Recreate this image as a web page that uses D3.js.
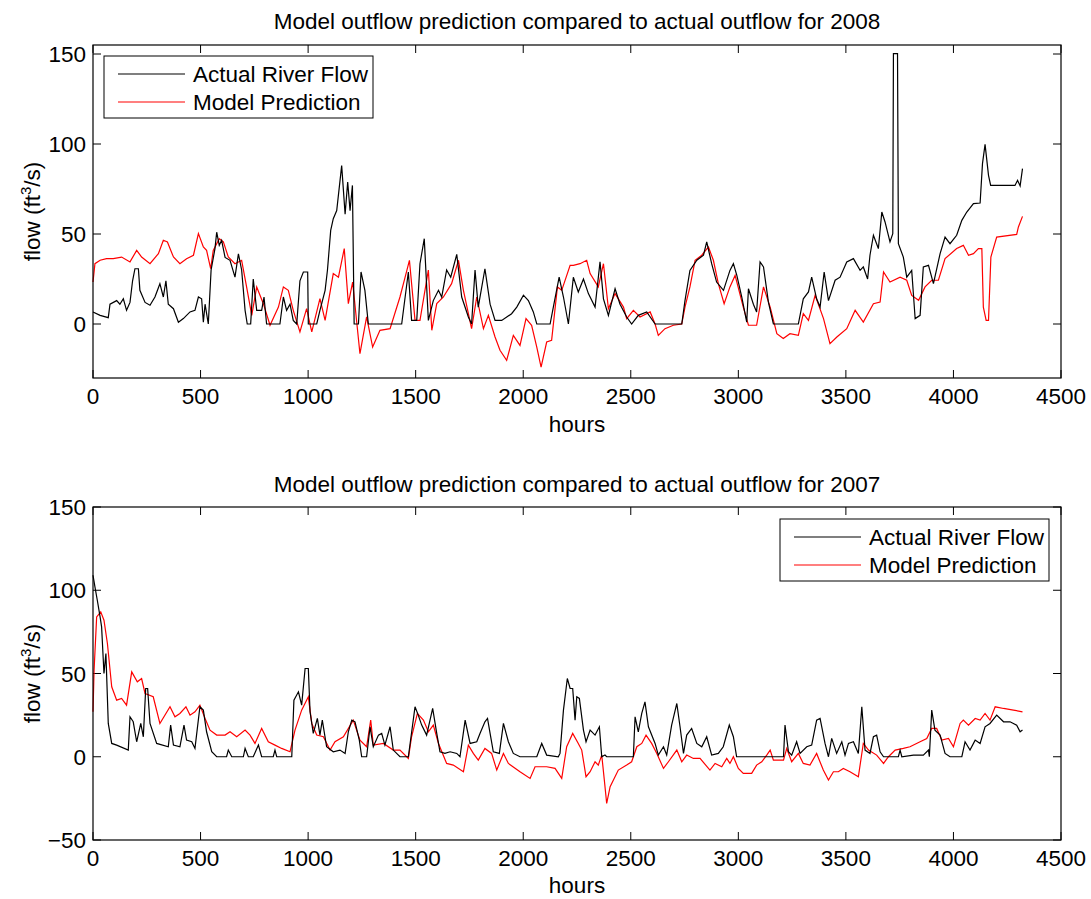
<!DOCTYPE html>
<html><head><meta charset="utf-8">
<script src="https://cdn.jsdelivr.net/npm/d3@7"></script>
<style>body{margin:0;background:#fff}text{font-family:"Liberation Sans",Arial,sans-serif}</style>
</head><body><svg id="c" width="1091" height="899"></svg>
<script>
const xTicks=[0,500,1000,1500,2000,2500,3000,3500,4000,4500];
const yTicksTop=[0,50,100,150];
const yTicksBot=[-50,0,50,100,150];
const titles=["Model outflow prediction compared to actual outflow for 2008","Model outflow prediction compared to actual outflow for 2007"];
const seriesNames=["Actual River Flow","Model Prediction"];

const actual2008Hours=[0,33,71,79,110,125,141,156,172,184,195,211,218,242,265,288,311,327,339,350,374,397,420,451,474,490,505,513,521,536,549,567,575,587,598,614,637,660,676,691,707,717,733,745,761,784,795,807,869,885,900,916,931,947,962,978,998,1001,1040,1055,1079,1090,1105,1117,1133,1156,1172,1184,1195,1206,1214,1234,1246,1264,1280,1435,1466,1481,1505,1520,1540,1559,1582,1606,1621,1644,1663,1691,1714,1745,1760,1776,1791,1822,1846,1869,1900,1946,1970,2001,2024,2047,2063,2125,2140,2167,2187,2210,2225,2233,2256,2280,2303,2334,2357,2373,2396,2427,2450,2481,2504,2535,2574,2613,2737,2752,2775,2807,2838,2853,2876,2899,2931,2961,2977,2993,3016,3039,3047,3070,3085,3101,3117,3140,3163,3279,3302,3326,3341,3364,3380,3399,3419,3450,3473,3504,3535,3566,3581,3601,3612,3628,3651,3667,3682,3705,3718,3721,3740,3744,3767,3783,3806,3822,3845,3860,3884,3907,3938,3961,3984,4015,4039,4062,4093,4124,4135,4147,4163,4173,4286,4298,4310,4321];
const actual2008Flow=[6.7,4.8,3.5,11,13,11,14,7.6,12,24,30.7,30.7,18.7,12,10.4,15,22.4,15,24,11,8.5,1,3,6.7,7.6,15,14,1,11,0,30,41.9,51,43.7,46.5,37,35.4,26,39,30,7.6,0,0,25,7.6,7.6,15,0,0,15,7.6,11,2,0,24,28.9,28.9,0,0,7.6,18.7,30,52,58.5,63,88,61,78.9,63,77,0,0,28.9,18.7,0,0,28.9,2,2,33.5,47.4,2,13,18.7,15,30,26,38.7,15,3.9,0,30,9.4,30.7,11,2,2,5.7,9.4,16,13,6.7,0,0,9.4,26,15,0,16.9,26,17.8,25,16.9,9.4,34.5,14,4.8,19.6,11,3.9,0,4.8,6.7,0,0,13,29.8,35.4,38.2,45.6,33.5,23.3,18.7,29.8,33.5,27,15,1,19.6,11,6.7,34.5,31.7,12,0,0,14,17.8,26,14,9.4,28.9,13,24.3,26,34.5,36.3,29.8,31.7,25,38.2,49.3,41.9,62.2,56.7,45.6,50.2,150.2,150.2,44.6,37.2,26,29.8,3,4.8,31.7,32.6,22.4,39.1,48.3,44.6,49.3,57.6,62.2,66.9,67.2,89.1,99.8,82.6,77,77,79.8,76.7,86.3];

const model2008Hours=[0,9,33,63,94,133,172,203,226,265,304,327,346,374,404,435,467,490,513,528,547,559,587,606,629,660,691,714,738,761,792,823,862,885,908,931,962,993,1017,1055,1079,1117,1141,1168,1187,1207,1241,1272,1300,1334,1381,1427,1451,1471,1497,1520,1559,1575,1598,1629,1667,1699,1722,1760,1784,1815,1838,1869,1892,1923,1954,1985,2013,2039,2063,2083,2109,2132,2159,2179,2218,2233,2264,2295,2311,2349,2373,2396,2427,2466,2481,2512,2543,2590,2613,2628,2659,2698,2737,2752,2775,2799,2830,2861,2884,2907,2934,2961,2985,3023,3047,3085,3117,3148,3179,3209,3240,3279,3302,3326,3357,3396,3426,3458,3504,3543,3581,3628,3659,3675,3705,3752,3783,3806,3838,3868,3899,3930,3961,4015,4046,4070,4093,4116,4132,4139,4152,4163,4174,4201,4294,4302,4321];
const model2008Flow=[23.3,33.5,35.4,36.3,36.3,37.2,34.5,40.9,37.2,33.5,39.1,46.5,45.6,37.2,33.5,36.3,38.2,50.2,42.8,40.9,30.7,40.9,47.4,45.6,37.2,33.5,35.4,20.6,4.8,20.6,11.3,-0.7,9.4,20.6,18.7,7.6,-4.4,8.5,-4.4,14.1,2,28,26,41.9,11.3,23.3,-16.5,3.9,-12.8,-3.5,-2.6,15,26,35.4,2,2,30,-3.5,11.3,15,22.4,35.4,18.7,-2.6,15,-2.6,4.8,-7.2,-14.6,-20.2,-6.3,-11.9,3,-0.7,-12.8,-23.9,-10,-9.1,20.6,18.7,32.6,32.6,33.5,35.4,28,20.6,33.5,8.5,16.9,9.4,3,7.6,3.9,6.7,0,-6.3,-2.6,-0.7,0,9.4,20.6,35.4,38.2,42.8,35.4,22.4,11.3,20.6,27,9.4,-0.7,-0.7,20.6,9.4,-5.4,-8.1,-5.4,-6.3,5.7,2,15.9,3,-10.9,-7.2,-2.6,7.6,1.1,11.3,12.2,28.9,23.3,26,24.3,15.9,13.2,20.6,24.3,24.3,36.3,41.9,43.7,38.2,39.1,41.9,41.9,9.4,2,2,37.2,48.3,49.8,53.9,59.8];

const actual2007Hours=[0,9,20,33,40,51,60,71,87,110,164,172,187,203,222,234,245,254,265,296,350,361,374,404,423,435,459,474,497,513,528,552,575,621,629,645,699,707,722,745,769,784,838,846,854,924,934,955,970,986,1001,1009,1024,1043,1055,1066,1086,1117,1148,1172,1187,1203,1218,1238,1249,1272,1288,1303,1327,1342,1357,1381,1396,1427,1466,1497,1512,1528,1551,1579,1598,1613,1636,1660,1691,1706,1730,1753,1784,1799,1822,1834,1846,1861,1889,1908,1931,1954,1985,2063,2086,2109,2163,2171,2187,2205,2218,2230,2241,2249,2261,2280,2292,2311,2334,2354,2365,2380,2388,2512,2520,2535,2551,2566,2582,2613,2628,2652,2667,2690,2714,2729,2745,2760,2783,2807,2830,2853,2876,2907,2930,2958,2977,2992,3210,3217,3233,3248,3271,3287,3318,3341,3364,3380,3403,3419,3434,3457,3481,3496,3512,3535,3558,3574,3589,3612,3628,3643,3659,3675,3744,3752,3760,3814,3860,3884,3888,3899,3914,3938,3961,3984,4039,4054,4077,4101,4124,4147,4170,4201,4233,4263,4294,4310,4321];
const actual2007Flow=[109,102,94,84,78,50,62,20,8,7,4,24,21,9,20,12,41,41,20,8,6,19,7,6,19,10,9,5,30,28,15,3,0,0,4,0,0,5,0,0,7,0,0,4,0,0,34,39,31,53,53,27,14,23,13,22,6,3,4,2,15,22,21,10,0,0,18,6,13,14,7,18,4,0,0,30,25,19,13,29,14,3,2,3,2,0,22,8,9,14,21,23,14,3,2,20,9,2,0,0,8,1,0,2,28,47,41,41,22,36,35,16,9,16,13,18,0,1,0,0,24,15,26,33,18,8,1,6,1,19,32,18,2,13,17,8,6,12,1,2,6,19,12,0,0,19,3,1,9,2,6,7,22,23,8,0,11,2,9,1,8,9,2,30,4,2,12,13,3,0,0,4,0,1,1,4,0,28,16,13,2,0,0,9,4,10,8,18,20,25,21,21,19,15,16];

const model2007Hours=[0,5,17,36,51,67,87,110,133,156,180,206,226,242,280,311,358,381,404,432,451,474,497,521,544,575,614,637,668,707,730,753,784,815,846,877,916,939,970,1001,1017,1040,1071,1102,1125,1164,1210,1241,1272,1291,1303,1350,1396,1427,1466,1481,1508,1536,1559,1582,1606,1644,1675,1722,1745,1768,1791,1822,1853,1877,1908,1931,1985,2032,2055,2109,2148,2179,2202,2230,2256,2272,2292,2311,2334,2349,2365,2377,2388,2404,2442,2481,2504,2528,2551,2571,2597,2621,2652,2675,2714,2737,2760,2791,2822,2868,2892,2923,2946,2961,2977,3000,3023,3062,3085,3109,3132,3148,3163,3210,3225,3248,3279,3302,3333,3364,3395,3419,3442,3465,3488,3519,3558,3581,3605,3643,3675,3698,3729,3767,3798,3845,3876,3899,3922,3946,3977,4000,4031,4046,4070,4101,4124,4147,4170,4194,4233,4279,4321];
const model2007Flow=[27,52,84,87,82,68,42,34,35,31,51,45,47,38,36,20,30,24,26,30,25,27,31,23,16,13,13,15,12,16,13,8,17,9,7,5,3,16,28,36,20,13,12,4,9,12,22,10,6,22,7,8,4,4,-1,12,26,22,15,19,8,-4,-5,-9,7,2,-2,5,2,-8,2,-4,-9,-13,-6,-6,-7,-13,6,14,8,4,-12,-9,-3,-5,1,-14,-28,-18,-8,-5,-3,6,8,13,8,2,-7,-3,4,-3,1,-1,-1,-8,-4,-6,-1,-4,0,-7,-10,-10,-5,-3,1,4,-2,-2,5,-3,2,-4,-5,2,-8,-14,-9,-9,-7,-9,-12,8,4,1,-4,0,4,5,6,9,11,17,17,10,11,6,20,22,19,23,22,26,22,30,29,28,27];

const svg=d3.select("#c");
const L=93,R=1061;
const FS=22.5;
const panels=[
 {top:45,bot:378,ydom:[-30,155],yt:yTicksTop,title:titles[0],titleY:29,xlabY:432,a:[actual2008Hours,actual2008Flow],m:[model2008Hours,model2008Flow],leg:{x:104,y:56}},
 {top:507,bot:840,ydom:[-50,150],yt:yTicksBot,title:titles[1],titleY:492,xlabY:893,a:[actual2007Hours,actual2007Flow],m:[model2007Hours,model2007Flow],leg:{x:780,y:519}}
];
const x=d3.scaleLinear().domain([0,4500]).range([L,R]);
panels.forEach(p=>{
  const y=d3.scaleLinear().domain(p.ydom).range([p.bot,p.top]);
  const g=svg.append("g");
  const tl=8;
  xTicks.forEach(t=>{
    g.append("line").attr("x1",x(t)).attr("x2",x(t)).attr("y1",p.bot).attr("y2",p.bot-tl).attr("stroke","#000");
    g.append("line").attr("x1",x(t)).attr("x2",x(t)).attr("y1",p.top).attr("y2",p.top+tl).attr("stroke","#000");
    g.append("text").attr("x",x(t)).attr("y",p.bot+26).attr("text-anchor","middle").attr("font-size",FS).text(t);
  });
  p.yt.forEach(t=>{
    g.append("line").attr("x1",L).attr("x2",L+tl).attr("y1",y(t)).attr("y2",y(t)).attr("stroke","#000");
    g.append("line").attr("x1",R).attr("x2",R-tl).attr("y1",y(t)).attr("y2",y(t)).attr("stroke","#000");
    g.append("text").attr("x",L-7).attr("y",y(t)+8).attr("text-anchor","end").attr("font-size",FS).text(t<0?"\u2212"+(-t):t);
  });
  const line=d3.line().x(d=>x(d[0])).y(d=>y(d[1]));
  const ad=d3.zip(p.a[0],p.a[1]), md=d3.zip(p.m[0],p.m[1]);
  g.append("path").attr("d",line(md)).attr("fill","none").attr("stroke","#ff0000").attr("stroke-width",1.2);
  g.append("path").attr("d",line(ad)).attr("fill","none").attr("stroke","#000").attr("stroke-width",1.2);
  g.append("rect").attr("x",L).attr("y",p.top).attr("width",R-L).attr("height",p.bot-p.top).attr("fill","none").attr("stroke","#000").attr("stroke-width",1.2);
  g.append("text").attr("x",(L+R)/2).attr("y",p.titleY).attr("text-anchor","middle").attr("font-size",FS).text(p.title);
  g.append("text").attr("x",(L+R)/2).attr("y",p.xlabY).attr("text-anchor","middle").attr("font-size",FS).text("hours");
  const yl=g.append("text").attr("transform",`translate(40,${(p.top+p.bot)/2}) rotate(-90)`).attr("text-anchor","middle").attr("font-size",FS);
  yl.append("tspan").text("flow (ft");
  yl.append("tspan").attr("font-size",15).attr("dy",-9).text("3");
  yl.append("tspan").attr("dy",9).text("/s)");
  const lg=g.append("g").attr("transform",`translate(${p.leg.x},${p.leg.y})`);
  lg.append("rect").attr("width",269).attr("height",62).attr("fill","#fff").attr("stroke","#000");
  [["#000",seriesNames[0]],["#ff0000",seriesNames[1]]].forEach((s,i)=>{
    const yy=18+i*28;
    lg.append("line").attr("x1",14).attr("x2",81).attr("y1",yy).attr("y2",yy).attr("stroke",s[0]).attr("stroke-width",1.2);
    lg.append("text").attr("x",89).attr("y",yy+8).attr("font-size",FS).text(s[1]);
  });
});
</script></body></html>
